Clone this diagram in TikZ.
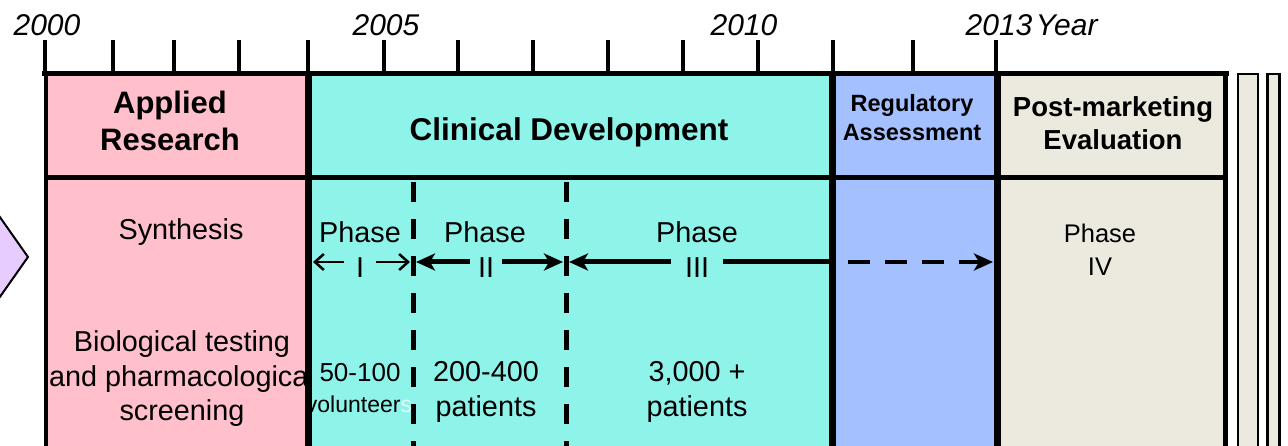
\documentclass[tikz,border=0pt]{standalone}
\usepackage{fontspec}
\setmainfont{Liberation Sans}
\usetikzlibrary{arrows.meta, positioning}

\definecolor{resPink}{RGB}{255,192,203}
\definecolor{clinCyan}{RGB}{142,244,234}
\definecolor{regBlue}{RGB}{164,192,255}
\definecolor{postGrey}{RGB}{236,233,222}
\definecolor{preLilac}{RGB}{230,204,255}
\definecolor{paleS}{RGB}{222,248,244}

\begin{document}
\begin{tikzpicture}[
    x=1pt, y=-1pt,
    cell/.style={rectangle, draw=black!60, line width=1.5pt, inner sep=0pt},
    strip/.style={rectangle, draw=black, fill=postGrey, line width=2.5pt,
                  minimum height=400, inner sep=0pt, anchor=north},
    head/.style={align=center, inner sep=0pt, font=\bfseries\fontsize{31}{37}\selectfont},
    txt/.style={align=center, inner sep=0pt, font=\fontsize{28.8}{34.5}\selectfont},
    roman/.style={txt, inner xsep=12pt},
    yr/.style={inner sep=0pt, font=\itshape\fontsize{30}{30}\selectfont},
    frame/.style={line width=5pt},
    sep/.style={line width=7pt},
    tick/.style={line width=3.5pt},
    phdash/.style={line width=5pt, dash pattern=on 20pt off 17pt},
    arr/.style={-{Stealth[length=19pt, width=17pt, inset=5pt]}, line width=5pt},
    thinarr/.style={-{Straight Barb[length=9pt, width=16pt]}, line width=2.5pt}
]
\useasboundingbox (0,0) rectangle (1288,446);
\clip (0,0) rectangle (1288,446);

% time axis
\foreach \tx in {45,113,174,239,308,384,458,533,608,683,758,833,913,996}
    \draw[tick] (\tx,40) -- (\tx,74);
\node[yr] (y2000) at (47,25) {2000};
\node[yr] (y2005) at (386,25) {2005};
\node[yr] (y2010) at (744,25) {2010};
\node[yr] (y2013) at (999,25) {2013};
\node[yr, right=3pt of y2013] (year) {Year};

% discovery stage, mostly off the page
\draw[fill=preLilac, line width=2pt] (-10,203) -- (28,257) -- (-10,311) -- cycle;

% applied research
\node[cell, fill=resPink, minimum width=261, minimum height=103] (hRes) at (177.5,125.5) {};
\node[cell, fill=resPink, minimum width=261, minimum height=300, anchor=north] (bRes) at (hRes.south) {};
\node[head] (tRes) at (170,121) {Applied\\Research};
\node[txt] (synth) at (181,232) {Synthesis};
\node[txt] (bio) at (182,379) {Biological testing\\and pharmacological\\screening};

% clinical development
\node[cell, fill=clinCyan, minimum width=524, minimum height=103] (hClin) at (570,125.5) {};
\node[cell, fill=clinCyan, minimum width=524, minimum height=300, anchor=north] (bClin) at (hClin.south) {};
\node[head, font=\bfseries\fontsize{31.5}{37}\selectfont] (tClin) at (569,132) {Clinical Development};

\coordinate (d1) at (413,182);
\coordinate (d2) at (566,182);
\draw[phdash] (d1) -- (d1 |- bClin.south);
\draw[phdash] (d2) -- (d2 |- bClin.south);

\node[txt] (ph1) at (360,232) {Phase};
\node[txt] (ph2) at (485,232) {Phase};
\node[txt] (ph3) at (697,232) {Phase};
\node[roman] (r1) at (360,268) {I};
\node[roman, inner xsep=8pt] (r2) at (486,268) {II};
\node[roman, inner xsep=14pt] (r3) at (697,268) {III};

\coordinate (b0) at (313,262);
\coordinate (b1l) at (410,262);
\coordinate (b1r) at (416,262);
\coordinate (b2l) at (563,262);
\coordinate (b2r) at (569,262);
\coordinate (b3) at (830,262);
\draw[thinarr] (r1.west |- b0) -- (b0);
\draw[thinarr] (r1.east |- b1l) -- (b1l);
\draw[arr] (r2.west |- b1r) -- (b1r);
\draw[arr] (r2.east |- b2l) -- (b2l);
\draw[arr] (r3.west |- b2r) -- (b2r);
\draw[line width=5pt] (r3.east |- b3) -- (b3);

\node[txt, font=\fontsize{26}{31}\selectfont] (vol1) at (360,373) {50-100};
\node[txt, font=\fontsize{23}{31}\selectfont] (vol2) at (359,404) {volunteer\textcolor{paleS}{s}};
\node[txt] (pat2) at (486,392) {200-400\\patients};
\node[txt] (pat3) at (697,392) {3,000 +\\patients};

% regulatory assessment
\node[cell, fill=regBlue, minimum width=165, minimum height=103] (hReg) at (914.5,125.5) {};
\node[cell, fill=regBlue, minimum width=165, minimum height=300, anchor=north] (bReg) at (hReg.south) {};
\node[head, font=\bfseries\fontsize{23.5}{29}\selectfont] (tReg) at (912,118) {Regulatory\\Assessment};
\coordinate (r0) at (848,262);
\coordinate (b4) at (993,262);
\draw[arr, line width=4pt, dash pattern=on 22pt off 15pt] (r0) -- (b4);

% post-marketing
\node[cell, fill=postGrey, minimum width=228, minimum height=103] (hPost) at (1111,125.5) {};
\node[cell, fill=postGrey, minimum width=228, minimum height=300, anchor=north] (bPost) at (hPost.south) {};
\node[head, font=\bfseries\fontsize{27.5}{33}\selectfont] (tPost) at (1113,123) {Post-marketing\\Evaluation};
\node[txt, font=\fontsize{25.5}{33}\selectfont] (ph4) at (1100,250) {Phase\\IV};

\node[strip, minimum width=20] (strip1) at (1248,73) {};
\node[strip, minimum width=12] (strip2) at (1273.5,73) {};

% heavy frame lines
\draw[frame] ([xshift=-4pt]hRes.north west) -- ([xshift=3pt]hPost.north east);
\draw[frame] (hRes.south west) -- (hPost.south east);
\draw[line width=4pt] (hRes.north west) -- (bRes.south west);
\draw[sep] (hRes.north east) -- (bRes.south east);
\draw[sep] (hClin.north east) -- (bClin.south east);
\draw[sep] (hReg.north east) -- (bReg.south east);
\draw[frame] (hPost.north east) -- (bPost.south east);
\end{tikzpicture}
\end{document}
